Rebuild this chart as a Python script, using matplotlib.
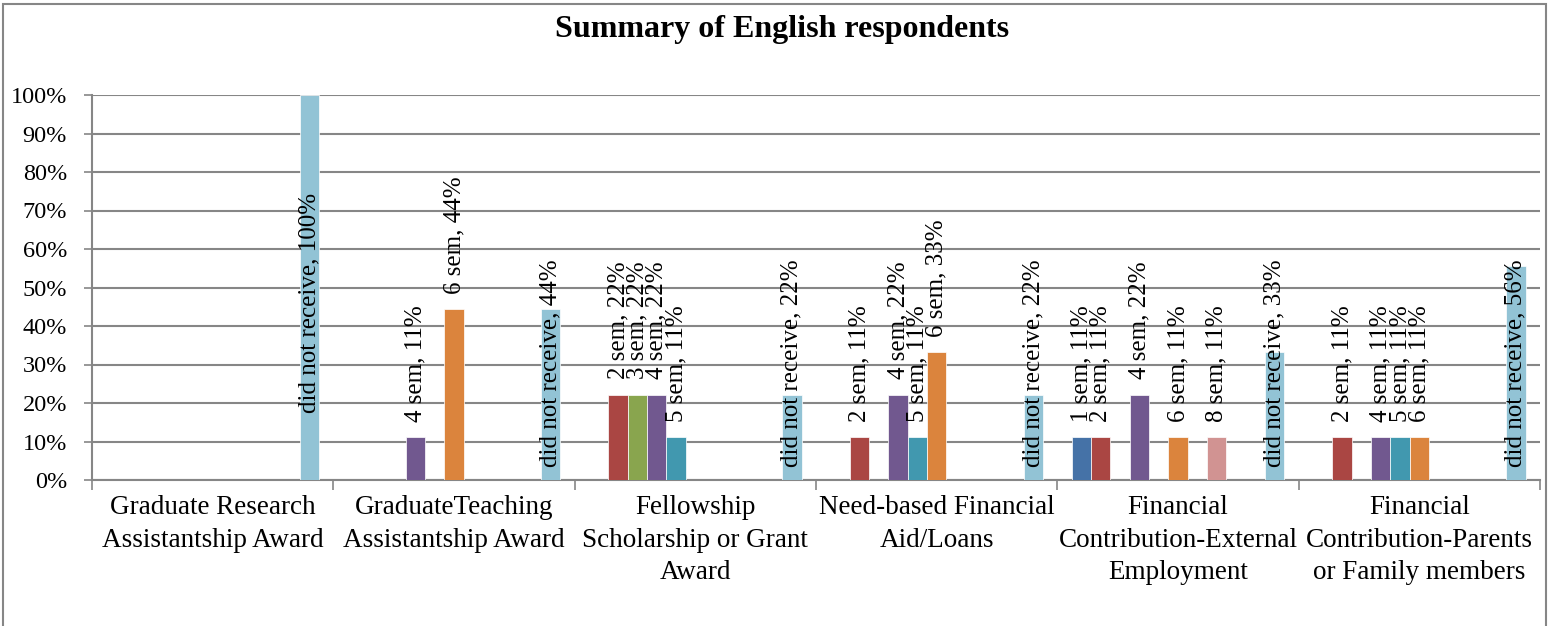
import numpy as np
import matplotlib
matplotlib.use('Agg')
import matplotlib.pyplot as plt
from matplotlib.patches import Rectangle

plt.rcParams['font.family'] = ['Liberation Serif', 'DejaVu Serif']

# categories along the x axis
categories = [
    "Graduate Research\nAssistantship Award",
    "GraduateTeaching\nAssistantship Award",
    "Fellowship\nScholarship or Grant\nAward",
    "Need-based Financial\nAid/Loans",
    "Financial\nContribution-External\nEmployment",
    "Financial\nContribution-Parents\nor Family members",
]

series_names = ["1 sem", "2 sem", "3 sem", "4 sem", "5 sem", "6 sem",
                "7 sem", "8 sem", "9 sem", "10 sem", "did not receive"]

# percent of respondents, one list per series (one value per category)
sem1 = [0, 0, 0, 0, 11.1, 0]
sem2 = [0, 0, 22.2, 11.1, 11.1, 11.1]
sem3 = [0, 0, 22.2, 0, 0, 0]
sem4 = [0, 11.1, 22.2, 22.2, 22.2, 11.1]
sem5 = [0, 0, 11.1, 11.1, 0, 11.1]
sem6 = [0, 44.4, 0, 33.3, 11.1, 11.1]
sem7 = [0, 0, 0, 0, 0, 0]
sem8 = [0, 0, 0, 0, 11.1, 0]
sem9 = [0, 0, 0, 0, 0, 0]
sem10 = [0, 0, 0, 0, 0, 0]
did_not_receive = [100, 44.4, 22.2, 22.2, 33.3, 55.6]

yticks = [0, 10, 20, 30, 40, 50, 60, 70, 80, 90, 100]

values = [sem1, sem2, sem3, sem4, sem5, sem6, sem7, sem8, sem9, sem10, did_not_receive]
colors = ["#4572A7", "#AA4643", "#89A54E", "#71588F", "#4198AF", "#DB843D",
          "#93A9CF", "#D19392", "#B9CD96", "#A99BBD", "#92C3D5"]

fig = plt.figure(figsize=(15.49, 6.26), dpi=100)
ax = fig.add_axes([92 / 1549, 1 - 480 / 626, (1540 - 92) / 1549, (480 - 95) / 626])

# outer chart border
fig.patches.append(Rectangle((3 / 1549, -0.1), (1546 - 3) / 1549, 1.1 - 4 / 626,
                             transform=fig.transFigure, fill=False,
                             edgecolor="#868686", linewidth=1.5))

n = len(series_names)
width = 1 / (n + 1.5)
x = np.arange(len(categories))
label_size = 18

for i, (name, vals, col) in enumerate(zip(series_names, values, colors)):
    pos = x + (i - (n - 1) / 2) * width
    ax.bar(pos, vals, width=width, color=col, edgecolor="white", linewidth=0.5, zorder=3)
    for px, v in zip(pos, vals):
        if v == 0:
            continue
        label = f"{name}, {v:.0f}%"
        if name == "did not receive":
            # these labels sit low in the plot (inside the bar when tall)
            if v >= 90:
                ax.text(px, v * 0.46, label, rotation=90, ha="center", va="center",
                        fontsize=label_size, zorder=4)
            else:
                ax.text(px, 3.5, label, rotation=90, ha="center", va="bottom",
                        fontsize=label_size, zorder=4)
        else:
            ax.annotate(label, (px, v), xytext=(0, 11), textcoords="offset points",
                        rotation=90, ha="center", va="bottom", fontsize=label_size, zorder=4)

ax.set_xlim(-0.5, len(categories) - 0.5)
ax.set_ylim(0, 100)
ax.set_yticks(yticks)
ax.set_yticklabels([f"{t}%" for t in yticks], fontsize=17.5)
ax.yaxis.grid(True, color="#868686", linewidth=1.5, zorder=0)

ax.set_xticks(np.arange(len(categories) + 1) - 0.5)
ax.set_xticklabels([])
ax.set_xticks(x, minor=True)
ax.set_xticklabels(categories, minor=True, fontsize=19.5, linespacing=1.4)
ax.tick_params(axis="x", which="major", length=7, width=1.2, color="#868686", direction="out")
ax.tick_params(axis="x", which="minor", length=0, pad=11)
ax.tick_params(axis="y", length=6, width=1.2, color="#868686", pad=12)

for side in ["top", "right"]:
    ax.spines[side].set_visible(False)
for side in ["left", "bottom"]:
    ax.spines[side].set_color("#868686")
    ax.spines[side].set_linewidth(1.5)

fig.text(782 / 1549, 1 - 30 / 626, "Summary of English respondents",
         ha="center", va="center", fontsize=23, fontweight="bold")

fig.savefig("out.png", dpi=100)
